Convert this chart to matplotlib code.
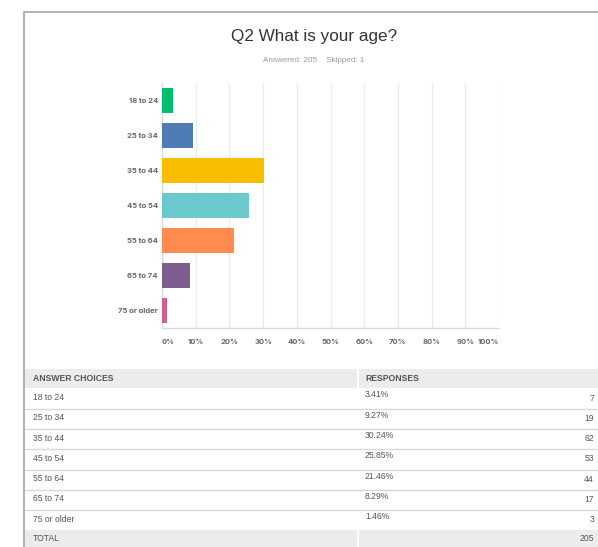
import matplotlib
matplotlib.use("Agg")
import matplotlib.pyplot as plt
import numpy as np

# data
choices = ["18 to 24", "25 to 34", "35 to 44", "45 to 54", "55 to 64", "65 to 74", "75 or older"]
percents = [3.41, 9.27, 30.24, 25.85, 21.46, 8.29, 1.46]
counts = [7, 19, 62, 53, 44, 17, 3]
total = 205
skipped = 1
bar_colors = ["#00bf6f", "#507cb6", "#f9be00", "#6bc8cd", "#ff8b4f", "#7d5e90", "#d25f90"]
x_ticks = [0, 10, 20, 30, 40, 50, 60, 70, 80, 90, 100]

W, H = 598, 547
fig = plt.figure(figsize=(W / 100, H / 100), dpi=100)
fig.patch.set_facecolor("white")


def px_axes(x0, y0, x1, y1, **kw):
    # axes from pixel box (top-left origin)
    return fig.add_axes([x0 / W, 1 - y1 / H, (x1 - x0) / W, (y1 - y0) / H], **kw)


# outer frame (left and top border)
frame = px_axes(0, 0, W, H)
frame.set_xlim(0, W)
frame.set_ylim(H, 0)
frame.axis("off")
frame.plot([23.5, 23.5, W + 5], [H + 5, 11.5, 11.5], color="#b0b0b0", lw=1.4,
           solid_capstyle="butt")

# title
fig.text(314 / W, 1 - 37 / H, "Q2 What is your age?", ha="center", va="center",
         fontsize=12.3, color="#333333", family="Liberation Sans")
fig.text(314 / W, 1 - 61 / H, "Answered: %d    Skipped: %d" % (total, skipped),
         ha="center", va="center", fontsize=5.9, color="#9a9a9a", family="Liberation Sans")

# bar chart
ax = px_axes(162, 83, 499, 328)
y = np.arange(len(choices))
ax.barh(y, percents, height=0.74, color=bar_colors, zorder=3)
ax.set_xlim(0, 100)
ax.set_ylim(len(choices) - 0.5, -0.5)
ax.set_xticks(x_ticks)
ax.set_xticklabels(["%d%%" % t for t in x_ticks])
ax.set_yticks(y)
ax.set_yticklabels(choices)
ax.grid(axis="x", color="#ececec", lw=1.0, zorder=0)
for s in ["top", "right"]:
    ax.spines[s].set_visible(False)
for s in ["left", "bottom"]:
    ax.spines[s].set_color("#dcdcdc")
    ax.spines[s].set_linewidth(1.0)
ax.tick_params(length=0, pad=3, labelsize=5.5, labelcolor="#666666")
ax.tick_params(axis="x", pad=8)
for lab in ax.get_xticklabels() + ax.get_yticklabels():
    lab.set_fontweight("bold")
    lab.set_family("Inter")
xl = ax.get_xticklabels()
xl[0].set_ha("left")
xl[-1].set_ha("right")

# table
row_h = 20.3
n_rows = len(choices) + 2
tab = px_axes(25, 368, W + 10, 368 + row_h * n_rows)
tab.set_xlim(25, W + 10)
tab.set_ylim(n_rows, 0)
tab.axis("off")
split = 357
txt = dict(fontsize=6.2, color="#555555", family="Liberation Sans")

# header
tab.fill_between([25, split], 0.05, 1, color="#ebeced", lw=0)
tab.fill_between([split + 2, W + 10], 0.05, 1, color="#ebeced", lw=0)
tab.text(33, 0.52, "ANSWER CHOICES", va="center", ha="left", fontweight="bold", **txt)
tab.text(365, 0.52, "RESPONSES", va="center", ha="left", fontweight="bold", **txt)

for i, (c, p, n) in enumerate(zip(choices, percents, counts)):
    r = i + 1
    tab.text(33, r + 0.45, c, va="center", ha="left", **txt)
    tab.text(365, r + 0.33, "%.2f%%" % p, va="center", ha="left", **txt)
    tab.text(594, r + 0.48, str(n), va="center", ha="right", **txt)
    if i < len(choices) - 1:
        tab.plot([25, W + 10], [r + 1, r + 1], color="#d8d8d8", lw=1.0)

# total row
r = len(choices) + 1
tab.fill_between([25, split], r, r + 1, color="#ebeced", lw=0)
tab.fill_between([split + 2, W + 10], r, r + 1, color="#ebeced", lw=0)
tab.text(33, r + 0.38, "TOTAL", va="center", ha="left", **txt)
tab.text(594, r + 0.38, str(total), va="center", ha="right", **txt)

fig.savefig("out.png", dpi=100, facecolor="white")
